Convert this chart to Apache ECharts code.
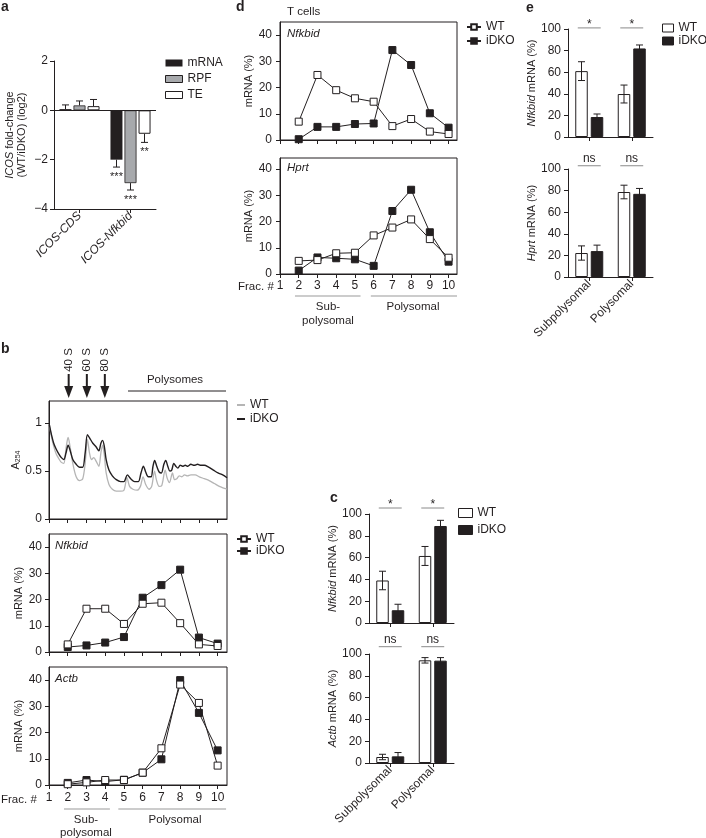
<!DOCTYPE html>
<html>
<head>
<meta charset="utf-8">
<script src="https://cdn.jsdelivr.net/npm/echarts@6/dist/echarts.min.js"></script>
<style>
  html, body { margin: 0; padding: 0; background: #fff; }
  #main { width: 706px; height: 838px; }
</style>
</head>
<body>
<div id="main"></div>
<script>
// ---- data ----
// a: ICOS fold-change (log2)
const aCats = ['ICOS-CDS', 'ICOS-Nfkbid'];
const aMrna = [0.05, -2.0];
const aRpf = [0.2, -2.95];
const aTe = [0.17, -0.95];
const aMrnaErr = [0.17, 0.3];
const aRpfErr = [0.18, 0.28];
const aTeErr = [0.27, 0.35];
const aMrnaSig = ['', '***'];
const aRpfSig = ['', '***'];
const aTeSig = ['', '**'];

// b: A254 profile (x in fraction units)
const profFracWt = [1.02,1.13,1.25,1.38,1.52,1.66,1.79,1.91,2.02,2.12,2.27,2.45,2.63,2.80,2.93,3.05,3.16,3.27,3.39,3.52,3.66,3.77,3.86,3.95,4.05,4.20,4.38,4.59,4.82,5.00,5.16,5.30,5.48,5.70,5.88,6.02,6.16,6.34,6.48,6.63,6.73,6.88,7.02,7.20,7.30,7.43,7.59,7.70,7.82,7.95,8.09,8.23,8.39,8.57,8.80,9.02,9.29,9.55,9.82,10.09,10.36,10.50];
const profWt = [0.98,0.86,0.76,0.68,0.63,0.59,0.58,0.74,0.85,0.76,0.58,0.44,0.40,0.42,0.58,0.83,0.69,0.62,0.64,0.60,0.55,0.69,0.77,0.67,0.48,0.36,0.31,0.29,0.29,0.30,0.43,0.34,0.31,0.30,0.34,0.44,0.36,0.31,0.34,0.50,0.41,0.34,0.35,0.51,0.43,0.38,0.48,0.41,0.42,0.45,0.44,0.46,0.45,0.46,0.46,0.44,0.42,0.40,0.37,0.34,0.32,0.31];
const profFracKo = [1.02,1.13,1.25,1.38,1.52,1.66,1.79,1.91,2.02,2.12,2.27,2.45,2.63,2.80,2.93,3.05,3.18,3.34,3.52,3.66,3.77,3.86,3.95,4.05,4.20,4.38,4.59,4.82,5.00,5.18,5.36,5.57,5.77,5.91,6.04,6.16,6.30,6.45,6.55,6.64,6.75,6.88,7.00,7.13,7.23,7.34,7.45,7.55,7.66,7.77,7.88,8.00,8.13,8.27,8.41,8.57,8.75,8.93,9.11,9.29,9.52,9.77,10.02,10.27,10.50];
const profKo = [0.98,0.88,0.79,0.73,0.68,0.64,0.62,0.69,0.77,0.72,0.62,0.57,0.54,0.54,0.69,0.88,0.84,0.79,0.75,0.71,0.79,0.82,0.76,0.62,0.51,0.45,0.41,0.39,0.39,0.46,0.42,0.39,0.39,0.48,0.55,0.49,0.44,0.44,0.55,0.61,0.55,0.49,0.48,0.57,0.61,0.55,0.50,0.51,0.58,0.55,0.53,0.56,0.55,0.56,0.55,0.57,0.56,0.57,0.56,0.56,0.54,0.51,0.48,0.46,0.43];

// b / d: mRNA (%) per fraction
const fractions = [2, 3, 4, 5, 6, 7, 8, 9, 10];
const fracTicks = [1, 2, 3, 4, 5, 6, 7, 8, 9, 10];
const pctTicks = [0, 10, 20, 30, 40];
const bNfkWt = [2.9, 16.5, 16.5, 10.7, 18.4, 18.8, 11, 2.9, 2.3];
const bNfkKo = [1.9, 2.5, 3.6, 5.7, 20.7, 25.5, 31.4, 5.5, 3.2];
const bActWt = [0.3, 1.0, 1.9, 1.9, 4.7, 14, 38.3, 31.3, 7.4];
const bActKo = [0.8, 1.9, 1.3, 2.0, 4.7, 9.8, 40, 27.5, 13.2];
const dNfkWt = [7, 24.8, 19, 15.9, 14.6, 5.3, 8, 3.2, 2.3];
const dNfkKo = [0.3, 5, 5, 6.1, 6.3, 34.3, 28.6, 10.2, 4.7];
const dHprtWt = [5, 5.3, 7.9, 8.1, 14.7, 17.7, 20.8, 13.3, 6.2];
const dHprtKo = [1.3, 6.3, 6, 5.6, 3.1, 24, 32.1, 15.9, 4.7];

// c / e: sub vs polysomal
const poolCats = ['Subpolysomal', 'Polysomal'];
const cNfkWt = [39, 61.5], cNfkWtErr = [8.5, 8.7];
const cNfkKo = [11.7, 89], cNfkKoErr = [5.5, 5.2];
const cNfkSig = ['*', '*'];
const cActWt = [5.5, 94.2], cActWtErr = [2.5, 2.5];
const cActKo = [6.1, 93.9], cActKoErr = [3.5, 2.8];
const cActSig = ['ns', 'ns'];
const eNfkWt = [61, 39.8], eNfkWtErr = [8.7, 8.3];
const eNfkKo = [18.5, 82], eNfkKoErr = [2.8, 3.2];
const eNfkSig = ['*', '*'];
const eHprtWt = [22.2, 78.7], eHprtWtErr = [6.6, 6.3];
const eHprtKo = [24, 77], eHprtKoErr = [5.5, 5];
const eHprtSig = ['ns', 'ns'];

// ---- style ----
const INK = '#231f20';
const FONT = 'Liberation Sans';
const chart = echarts.init(document.getElementById('main'));

const grids = [
  { left: 54, top: 61, width: 102, height: 148 },               // 0 a
  { left: 49, top: 401, width: 178, height: 118, show: true },  // 1 b A254
  { left: 49, top: 534, width: 178, height: 118, show: true },  // 2 b Nfkbid
  { left: 49, top: 667, width: 178, height: 118, show: true },  // 3 b Actb
  { left: 369, top: 514, width: 85, height: 109 },              // 4 c Nfkbid
  { left: 369, top: 654, width: 85, height: 109 },              // 5 c Actb
  { left: 280, top: 22, width: 177, height: 118, show: true },  // 6 d Nfkbid
  { left: 280, top: 158, width: 177, height: 116, show: true }, // 7 d Hprt
  { left: 568, top: 29, width: 85, height: 108 },               // 8 e Nfkbid
  { left: 568, top: 169, width: 85, height: 108 }               // 9 e Hprt
].map(g => Object.assign({ borderColor: INK, borderWidth: 1, backgroundColor: 'transparent', outerBoundsMode: 'none' }, g));

const lbl = { color: INK, fontSize: 12, fontFamily: FONT };
const nameStyle = { color: INK, fontSize: 11, fontFamily: FONT, rich: { i: { fontStyle: 'italic', fontSize: 11, color: INK, fontFamily: FONT } } };
const axLine = { show: true, onZero: false, lineStyle: { color: INK, width: 1 } };

function fracAxis(gi, showLabels, max, margin) {
  return {
    type: 'value', gridIndex: gi, min: 1, max: max, interval: 1,
    axisLine: axLine,
    axisTick: { show: true, length: 4, customValues: fracTicks, lineStyle: { color: INK } },
    axisLabel: Object.assign({ show: showLabels, customValues: fracTicks, margin: margin || 8 }, lbl),
    splitLine: { show: false }
  };
}
function pctAxis(gi, max, ticks, interval, name, gap, margin) {
  return {
    type: 'value', gridIndex: gi, min: 0, max: max, interval: interval,
    axisLine: axLine,
    axisTick: { show: true, length: 4, customValues: ticks, lineStyle: { color: INK } },
    axisLabel: Object.assign({ customValues: ticks, margin: margin || 7 }, lbl),
    splitLine: { show: false },
    name: name, nameLocation: 'middle', nameGap: gap, nameTextStyle: nameStyle
  };
}
function catAxis(gi, cats, showLabels, labelFmt) {
  return {
    type: 'category', gridIndex: gi, data: cats,
    axisLine: axLine,
    axisTick: { show: true, length: 4, alignWithLabel: true, lineStyle: { color: INK } },
    axisLabel: Object.assign({ show: showLabels, rotate: 45, margin: 5, interval: 0, formatter: labelFmt,
      rich: { i: { fontStyle: 'italic', fontSize: 12, color: INK, fontFamily: FONT } } }, lbl),
    splitLine: { show: false }
  };
}

const xAxes = [
  catAxis(0, aCats, true, v => '{i|' + v + '}'),
  fracAxis(1, false, 10.5),
  fracAxis(2, false, 10.5),
  fracAxis(3, true, 10.5, 7),
  catAxis(4, poolCats, false),
  catAxis(5, poolCats, true),
  fracAxis(6, false, 10.45),
  fracAxis(7, true, 10.45, 6),
  catAxis(8, poolCats, false),
  catAxis(9, poolCats, true)
];
const yAxes = [
  {
    type: 'value', gridIndex: 0, min: -4, max: 2, interval: 2,
    axisLine: axLine, axisTick: { show: true, length: 4, lineStyle: { color: INK } },
    axisLabel: Object.assign({ margin: 6, formatter: v => v < 0 ? '\u2212' + (-v) : String(v) }, lbl),
    splitLine: { show: false },
    name: '{i|ICOS} fold-change\n(WT/iDKO) (log2)', nameLocation: 'middle', nameGap: 26,
    nameTextStyle: Object.assign({ lineHeight: 12 }, nameStyle)
  },
  Object.assign(pctAxis(1, 1.23, [0, 0.5, 1], 0.5, 'A{s|254}', 26), {
    nameTextStyle: { color: INK, fontSize: 11, fontFamily: FONT,
      rich: { s: { fontSize: 7, color: INK, fontFamily: FONT, verticalAlign: 'bottom', padding: [4, 0, 0, 0] } } }
  }),
  pctAxis(2, 45, pctTicks, 10, 'mRNA (%)', 18),
  pctAxis(3, 45, pctTicks, 10, 'mRNA (%)', 18),
  pctAxis(4, 100, [0, 20, 40, 60, 80, 100], 20, '{i|Nfkbid} mRNA (%)', 26),
  pctAxis(5, 100, [0, 20, 40, 60, 80, 100], 20, '{i|Actb} mRNA (%)', 26),
  pctAxis(6, 45, pctTicks, 10, 'mRNA (%)', 25, 8),
  pctAxis(7, 44.2, pctTicks, 10, 'mRNA (%)', 25, 8),
  pctAxis(8, 100, [0, 20, 40, 60, 80, 100], 20, '{i|Nfkbid} mRNA (%)', 29),
  pctAxis(9, 100, [0, 20, 40, 60, 80, 100], 20, '{i|Hprt} mRNA (%)', 29)
];

// ---- series helpers ----
function errSeries(gi, items, labels, geo) {
  // items: [cat, value, lo, hi, slot]
  return {
    type: 'custom', xAxisIndex: gi, yAxisIndex: gi, clip: false, silent: true, z: 4,
    data: items,
    renderItem: (params, api) => {
      const off = (api.value(4) - (geo.n - 1) / 2) * (geo.w + geo.gap);
      const x = api.coord([api.value(0), api.value(1)])[0] + off;
      const yLo = api.coord([api.value(0), api.value(2)])[1];
      const yHi = api.coord([api.value(0), api.value(3)])[1];
      const st = { stroke: INK, lineWidth: 1 };
      const kids = [
        { type: 'line', shape: { x1: x, y1: yLo, x2: x, y2: yHi }, style: st },
        { type: 'line', shape: { x1: x - 3.5, y1: yHi, x2: x + 3.5, y2: yHi }, style: st }
      ];
      if (!geo.oneSided) kids.push({ type: 'line', shape: { x1: x - 3.5, y1: yLo, x2: x + 3.5, y2: yLo }, style: st });
      const t = labels ? labels[params.dataIndex] : '';
      if (t) {
        kids.push({ type: 'text', x: x, y: yHi + 10,
          style: { text: t, fill: INK, font: '11px "Liberation Sans"', align: 'center', verticalAlign: 'middle' } });
      }
      return { type: 'group', children: kids };
    }
  };
}
function sigSeries(gi, items, labels) {
  // items: [cat, y]
  return {
    type: 'custom', xAxisIndex: gi, yAxisIndex: gi, clip: false, silent: true, z: 4,
    data: items,
    renderItem: (params, api) => {
      const p = api.coord([api.value(0), api.value(1)]);
      const half = api.size([1, 0])[0] * 0.27;
      const t = labels[params.dataIndex];
      return { type: 'group', children: [
        { type: 'line', shape: { x1: p[0] - half, y1: p[1], x2: p[0] + half, y2: p[1] }, style: { stroke: '#8a8a8a', lineWidth: 1 } },
        { type: 'text', x: p[0], y: p[1] + (t === 'ns' ? -7 : -3.5),
          style: { text: t, fill: INK, font: '12px "Liberation Sans"', align: 'center', verticalAlign: 'middle' } }
      ] };
    }
  };
}
function pairs(xs, ys) { return xs.map((x, i) => [x, ys[i]]); }
function fracLine(name, gi, ys, filled) {
  return {
    name: name, type: 'line', xAxisIndex: gi, yAxisIndex: gi, data: pairs(fractions, ys),
    symbol: 'rect', symbolSize: 7, z: filled ? 3 : 4,
    lineStyle: { color: INK, width: 1 },
    itemStyle: { color: filled ? INK : '#fff', borderColor: INK, borderWidth: 1 },
    emphasis: { disabled: true }
  };
}
function poolBars(gi, tag, wt, ko) {
  const common = { type: 'bar', xAxisIndex: gi, yAxisIndex: gi, barWidth: 12.5, barGap: '24%', emphasis: { disabled: true } };
  return [
    Object.assign({ name: 'WT#' + tag, data: wt, itemStyle: { color: '#fff', borderColor: INK, borderWidth: 1 } }, common),
    Object.assign({ name: 'iDKO#' + tag, data: ko, itemStyle: { color: INK, borderColor: INK, borderWidth: 1 } }, common)
  ];
}
function poolErr(gi, wt, wtErr, ko, koErr) {
  const items = [];
  wt.forEach((v, i) => items.push([i, v, v - wtErr[i], v + wtErr[i], 0]));
  ko.forEach((v, i) => items.push([i, v, v - koErr[i], v + koErr[i], 1]));
  return errSeries(gi, items, null, { n: 2, w: 12.5, gap: 3 });
}
function oneSided(vals, errs, slot) {
  return vals.map((v, i) => [i, v, v, v + (v >= 0 ? errs[i] : -errs[i]), slot]);
}

const aBar = { type: 'bar', xAxisIndex: 0, yAxisIndex: 0, barWidth: 12, barGap: '17%', emphasis: { disabled: true } };
const series = [
  Object.assign({ name: 'mRNA', data: aMrna, itemStyle: { color: INK },
    markLine: { silent: true, symbol: ['none', 'none'], label: { show: false },
      lineStyle: { color: INK, type: 'solid', width: 1 }, data: [{ yAxis: 0 }] } }, aBar),
  Object.assign({ name: 'RPF', data: aRpf, itemStyle: { color: '#a7a9ac', borderColor: INK, borderWidth: 0.8 } }, aBar),
  Object.assign({ name: 'TE', data: aTe, itemStyle: { color: '#fff', borderColor: INK, borderWidth: 1 } }, aBar),
  errSeries(0, oneSided(aMrna, aMrnaErr, 0), aMrnaSig, { n: 3, w: 12, gap: 2, oneSided: true }),
  errSeries(0, oneSided(aRpf, aRpfErr, 1), aRpfSig, { n: 3, w: 12, gap: 2, oneSided: true }),
  errSeries(0, oneSided(aTe, aTeErr, 2), aTeSig, { n: 3, w: 12, gap: 2, oneSided: true }),

  { name: 'WT#b0', type: 'line', xAxisIndex: 1, yAxisIndex: 1, data: pairs(profFracWt, profWt),
    symbol: 'none', smooth: 0.3, lineStyle: { color: '#b5b5b5', width: 1.3 }, itemStyle: { color: '#b5b5b5' }, z: 2 },
  { name: 'iDKO#b0', type: 'line', xAxisIndex: 1, yAxisIndex: 1, data: pairs(profFracKo, profKo),
    symbol: 'none', smooth: 0.3, lineStyle: { color: INK, width: 1.4 }, itemStyle: { color: INK }, z: 3 },

  fracLine('WT#b1', 2, bNfkWt, false), fracLine('iDKO#b1', 2, bNfkKo, true),
  fracLine('WT#b2', 3, bActWt, false), fracLine('iDKO#b2', 3, bActKo, true),

  ...poolBars(4, 'c', cNfkWt, cNfkKo),
  poolErr(4, cNfkWt, cNfkWtErr, cNfkKo, cNfkKoErr),
  sigSeries(4, [[0, 105.5], [1, 105.5]], cNfkSig),
  ...poolBars(5, 'c2', cActWt, cActKo),
  poolErr(5, cActWt, cActWtErr, cActKo, cActKoErr),
  sigSeries(5, [[0, 106.7], [1, 106.7]], cActSig),

  fracLine('WT#d', 6, dNfkWt, false), fracLine('iDKO#d', 6, dNfkKo, true),
  fracLine('WT#d2', 7, dHprtWt, false), fracLine('iDKO#d2', 7, dHprtKo, true),

  ...poolBars(8, 'e', eNfkWt, eNfkKo),
  poolErr(8, eNfkWt, eNfkWtErr, eNfkKo, eNfkKoErr),
  sigSeries(8, [[0, 101], [1, 101]], eNfkSig),
  ...poolBars(9, 'e2', eHprtWt, eHprtKo),
  poolErr(9, eHprtWt, eHprtWtErr, eHprtKo, eHprtKoErr),
  sigSeries(9, [[0, 103], [1, 103]], eHprtSig)
];

const legBase = { orient: 'vertical', padding: 0, selectedMode: false,
  textStyle: { color: INK, fontSize: 12, fontFamily: FONT }, formatter: n => n.split('#')[0] };
const barIcon = { icon: 'rect', itemStyle: { borderWidth: 1 } };
const legends = [
  Object.assign({ data: ['mRNA', 'RPF', 'TE'], left: 165, top: 57, itemWidth: 17, itemHeight: 7, itemGap: 4 }, barIcon),
  { data: ['WT#b0', 'iDKO#b0'], left: 237, top: 399, itemWidth: 8, itemHeight: 2, itemGap: 2, icon: 'rect' },
  { data: ['WT#b1', 'iDKO#b1'], left: 236, top: 533, itemWidth: 14, itemHeight: 7, itemGap: 0 },
  Object.assign({ data: ['WT#c', 'iDKO#c'], left: 458, top: 507, itemWidth: 14, itemHeight: 9, itemGap: 5 }, barIcon),
  { data: ['WT#d', 'iDKO#d'], left: 466, top: 21, itemWidth: 14, itemHeight: 7, itemGap: 2 },
  Object.assign({ data: ['WT#e', 'iDKO#e'], left: 662, top: 22, itemWidth: 11, itemHeight: 8, itemGap: 1 }, barIcon)
].map(l => Object.assign({}, legBase, l));

// ---- annotations ----
function txt(text, x, y, o) {
  o = o || {};
  const font = (o.italic ? 'italic ' : '') + (o.bold ? 'bold ' : '') + (o.size || 11.5) + 'px "Liberation Sans"';
  return { type: 'text', x: x, y: y, rotation: o.rot || 0, silent: true, z: 10,
    style: { text: text, fill: INK, font: font, align: o.align || 'left', textAlign: o.align || 'left',
      verticalAlign: 'middle', textVerticalAlign: 'middle' } };
}
function seg(x1, y1, x2, y2, color, w) {
  return { type: 'line', silent: true, z: 10, shape: { x1: x1, y1: y1, x2: x2, y2: y2 },
    style: { stroke: color || INK, lineWidth: w || 1 } };
}
const bx = f => 49 + (f - 1) * 178 / 9.5;
const dx = f => 280 + (f - 1) * 177 / 9.45;
const graphics = [
  txt('a', 1, 7, { bold: true, size: 14 }),
  txt('b', 1, 349, { bold: true, size: 14 }),
  txt('c', 330, 498, { bold: true, size: 14 }),
  txt('d', 236, 7, { bold: true, size: 14 }),
  txt('e', 526, 8, { bold: true, size: 14 }),
  txt('T cells', 287, 12),
  txt('Nfkbid', 287, 34, { italic: true }),
  txt('Hprt', 287, 168, { italic: true }),
  txt('Nfkbid', 55, 546, { italic: true }),
  txt('Actb', 55, 679, { italic: true }),
  txt('Polysomes', 175, 380, { align: 'center' }),
  seg(128, 391, 226, 391),
  txt('Frac. #', 1, 800),
  seg(bx(1.8), 809, bx(4.25), 809, '#999'),
  seg(bx(4.7), 809, bx(10.45), 809, '#999'),
  txt('Sub-', 86, 820, { align: 'center' }),
  txt('polysomal', 86, 833, { align: 'center' }),
  txt('Polysomal', 175, 820, { align: 'center' }),
  txt('Frac. #', 238, 287),
  seg(dx(1.8), 296, dx(5.3), 296, '#999'),
  seg(dx(5.85), 296, dx(10.45), 296, '#999'),
  txt('Sub-', 328, 307, { align: 'center' }),
  txt('polysomal', 328, 321, { align: 'center' }),
  txt('Polysomal', 413, 307, { align: 'center' })
];
[[2.05, '40 S'], [3.02, '60 S'], [3.98, '80 S']].forEach(([f, t]) => {
  const x = bx(f);
  graphics.push(seg(x, 374, x, 389, INK, 2));
  graphics.push({ type: 'polygon', silent: true, z: 10, shape: { points: [[x - 4.5, 386], [x + 4.5, 386], [x, 398]] }, style: { fill: INK } });
  graphics.push(txt(t, x, 360, { rot: Math.PI / 2, align: 'center' }));
});

chart.setOption({
  animation: false,
  textStyle: { fontFamily: FONT, color: INK },
  grid: grids,
  xAxis: xAxes,
  yAxis: yAxes,
  legend: legends,
  series: series,
  graphic: { elements: graphics }
});
</script>
</body>
</html>
